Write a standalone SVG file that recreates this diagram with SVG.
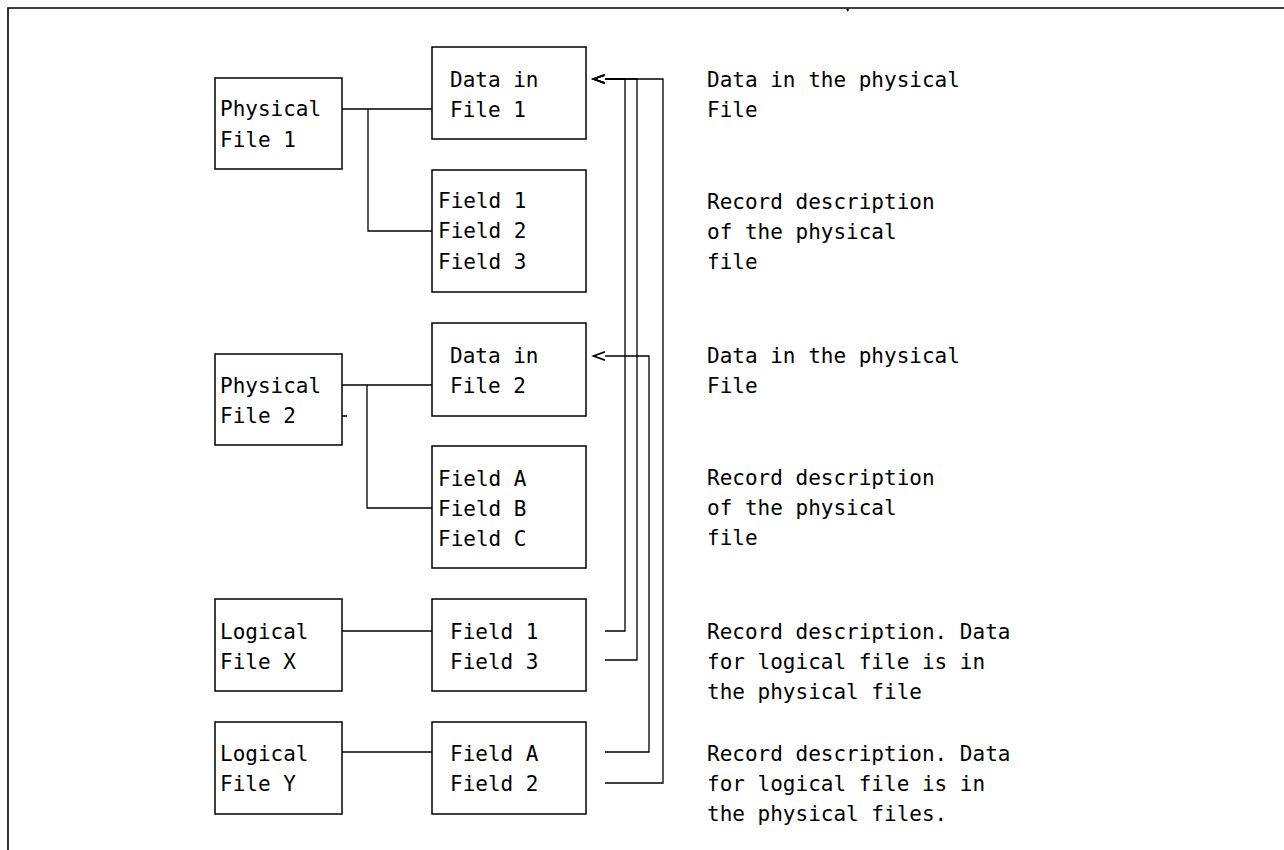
<svg xmlns="http://www.w3.org/2000/svg" width="1284" height="850" viewBox="0 0 1284 850">
<style>
.box{fill:#fff;stroke:#000;stroke-width:1.5}
.ln{fill:none;stroke:#000;stroke-width:1.3}
.fr{fill:none;stroke:#000;stroke-width:1.6}
text{font-family:"DejaVu Sans Mono","Liberation Mono",monospace;font-size:21px;fill:#000}
</style>
<defs>
<marker id="lt" markerWidth="14" markerHeight="12" refX="0" refY="6" orient="auto" markerUnits="userSpaceOnUse">
<path d="M0 1.8 L11.5 6 L0 10.2" fill="none" stroke="#000" stroke-width="1.6"/>
</marker>
</defs>
<rect width="1284" height="850" fill="#fff"/>
<g id="frame">
<path class="fr" d="M8 850 V8 H1284"/>
<path d="M846 9 L849 9 L848 12 Z" fill="#000"/>
</g>
<g id="connectors">
<path class="ln" d="M342 109 H432 M368 109 V231 H432"/>
<path class="ln" d="M342 385 H432 M367 385 V508 H432 M342 416 H347"/>
<path class="ln" d="M342 631 H432"/>
<path class="ln" d="M342 752 H432"/>
<path class="ln" d="M605 631 H625 V79 H605" marker-end="url(#lt)"/>
<path class="ln" d="M605 660 H637 V79 H605" marker-end="url(#lt)"/>
<path class="ln" d="M605 783 H663 V79 H605" marker-end="url(#lt)"/>
<path class="ln" d="M605 752 H649 V356 H605" marker-end="url(#lt)"/>
</g>
<g id="pf1">
<rect class="box" x="215" y="78" width="127" height="91"/>
<text x="220" y="116">Physical</text>
<text x="220" y="147">File 1</text>
</g>
<g id="data1">
<rect class="box" x="432" y="47" width="154" height="92"/>
<text x="450" y="87">Data in</text>
<text x="450" y="117">File 1</text>
</g>
<g id="fields1">
<rect class="box" x="432" y="170" width="154" height="122"/>
<text x="438" y="208">Field 1</text>
<text x="438" y="238">Field 2</text>
<text x="438" y="269">Field 3</text>
</g>
<g id="pf2">
<rect class="box" x="215" y="354" width="127" height="91"/>
<text x="220" y="393">Physical</text>
<text x="220" y="423">File 2</text>
</g>
<g id="data2">
<rect class="box" x="432" y="323" width="154" height="93"/>
<text x="450" y="363">Data in</text>
<text x="450" y="393">File 2</text>
</g>
<g id="fields2">
<rect class="box" x="432" y="446" width="154" height="122"/>
<text x="438" y="486">Field A</text>
<text x="438" y="516">Field B</text>
<text x="438" y="546">Field C</text>
</g>
<g id="lfx">
<rect class="box" x="215" y="599" width="127" height="92"/>
<text x="220" y="639">Logical</text>
<text x="220" y="669">File X</text>
</g>
<g id="lfxfields">
<rect class="box" x="432" y="599" width="154" height="92"/>
<text x="450" y="639">Field 1</text>
<text x="450" y="669">Field 3</text>
</g>
<g id="lfy">
<rect class="box" x="215" y="722" width="127" height="92"/>
<text x="220" y="761">Logical</text>
<text x="220" y="791">File Y</text>
</g>
<g id="lfyfields">
<rect class="box" x="432" y="722" width="154" height="92"/>
<text x="450" y="761">Field A</text>
<text x="450" y="791">Field 2</text>
</g>
<g id="notes">
<text x="707" y="87">Data in the physical</text>
<text x="707" y="117">File</text>
<text x="707" y="209">Record description</text>
<text x="707" y="239">of the physical</text>
<text x="707" y="269">file</text>
<text x="707" y="363">Data in the physical</text>
<text x="707" y="393">File</text>
<text x="707" y="485">Record description</text>
<text x="707" y="515">of the physical</text>
<text x="707" y="545">file</text>
<text x="707" y="639">Record description. Data</text>
<text x="707" y="669">for logical file is in</text>
<text x="707" y="699">the physical file</text>
<text x="707" y="761">Record description. Data</text>
<text x="707" y="791">for logical file is in</text>
<text x="707" y="821">the physical files.</text>
</g>
</svg>
